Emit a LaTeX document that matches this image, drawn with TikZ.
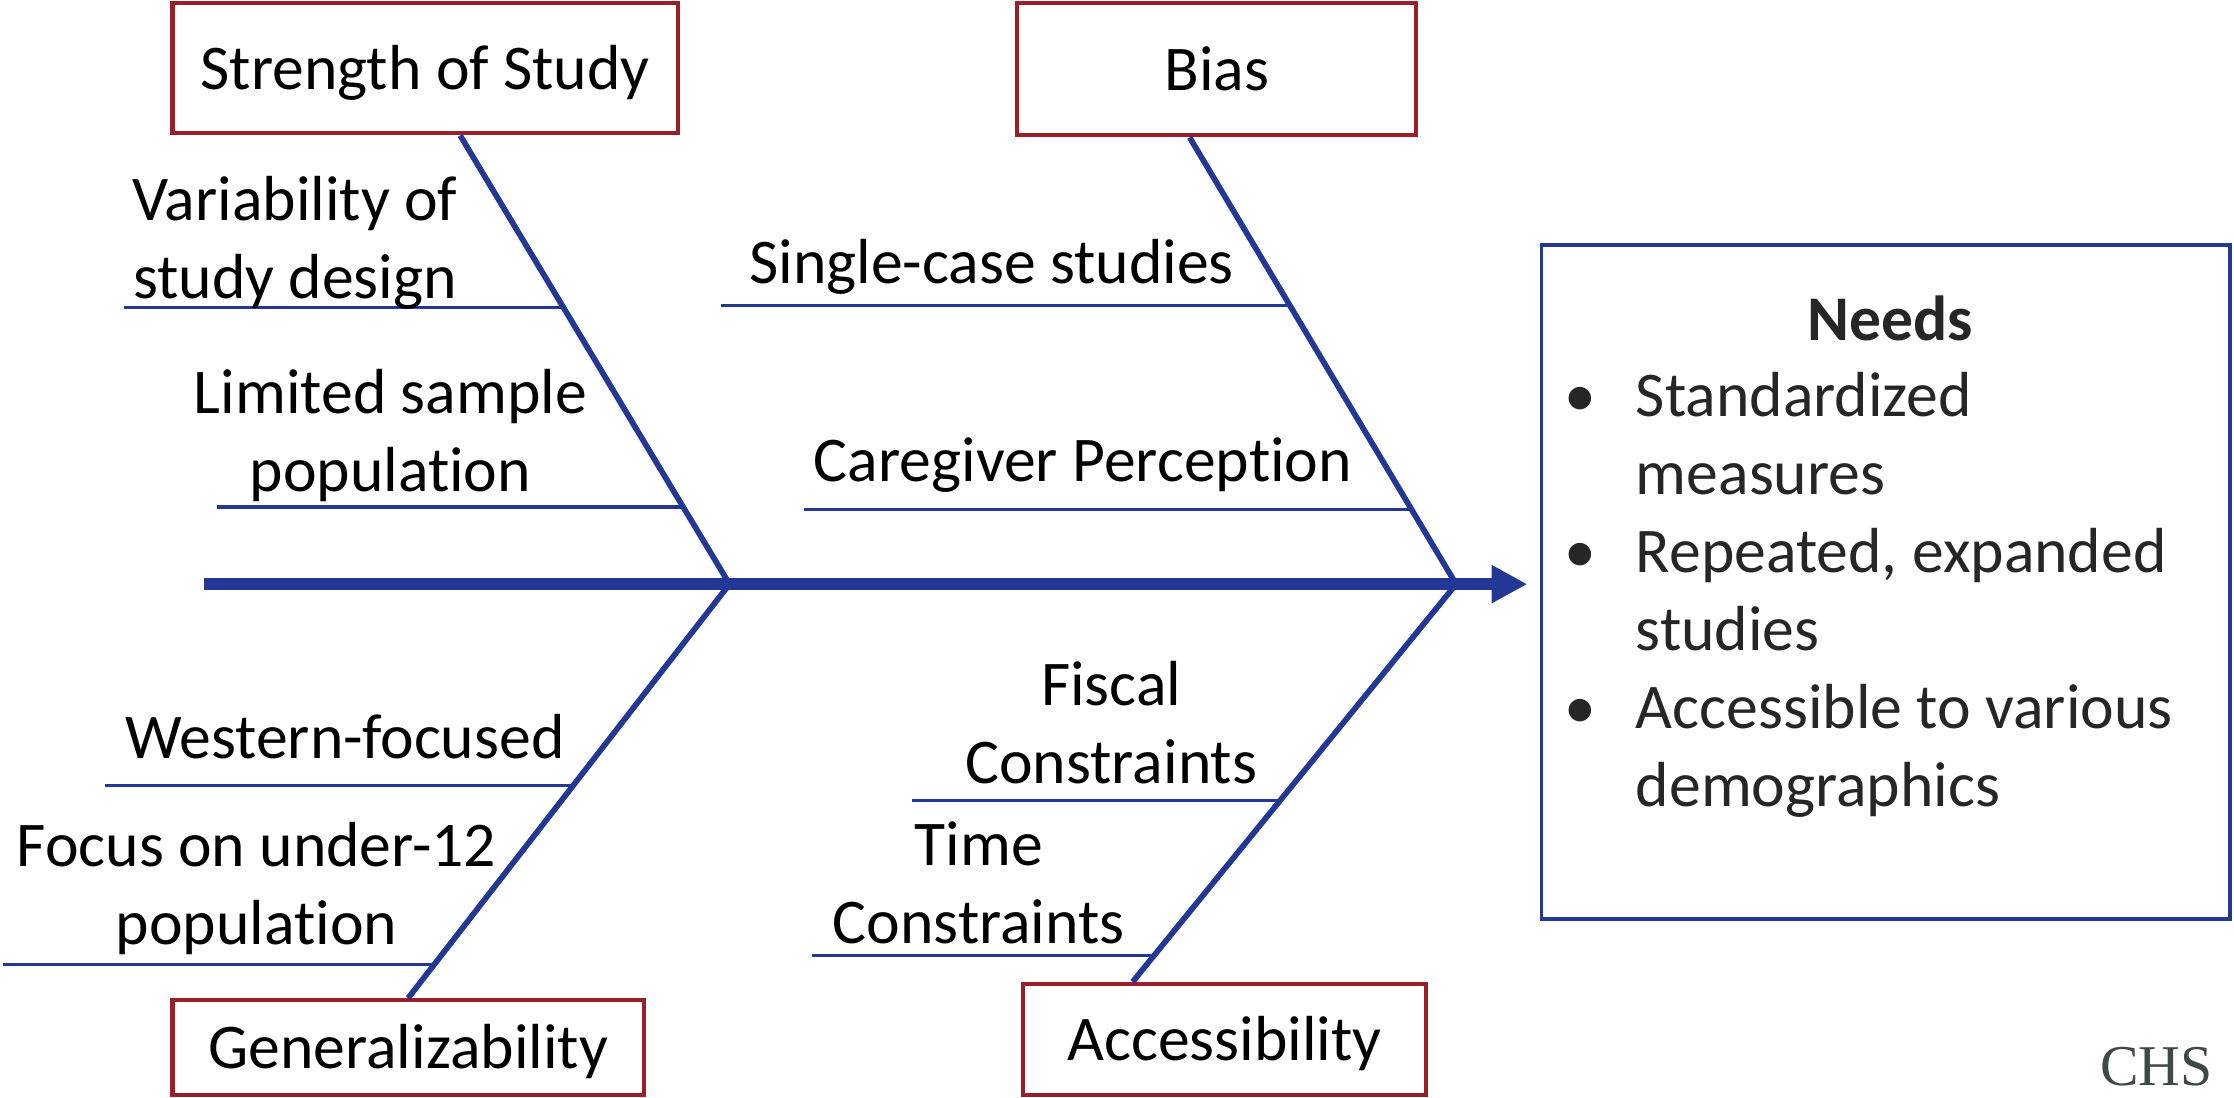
\documentclass[tikz,border=0pt]{standalone}
\usepackage{fontspec}
\setmainfont{Carlito}[Ligatures=NoCommon]
\newfontfamily\chsfont{Liberation Serif}
\usetikzlibrary{arrows.meta,positioning}
\definecolor{bonecol}{RGB}{35,56,148}
\definecolor{boxred}{RGB}{155,30,40}
\definecolor{needtext}{RGB}{38,38,38}
\definecolor{chsgray}{RGB}{62,72,72}
\newcommand{\lblfont}{\fontsize{44.7}{54.7}\selectfont}
\tikzset{
    catbox/.style={draw=boxred, line width=3pt, inner sep=0pt, text height=32pt, text depth=2pt},
    bone/.style={draw=bonecol, line width=4pt},
    twig/.style={draw=bonecol, line width=2.2pt},
    twiglabel/.style={align=center, inner sep=0pt, anchor=south, execute at end node=\strut},
}

\begin{document}
\begin{tikzpicture}[x=1pt, y=-1pt, every node/.style={font=\lblfont}]
    \useasboundingbox (0,0) rectangle (1568,770);
    \node[catbox, minimum width=355pt, minimum height=91.6pt] (strength) at (298.5,47.8) {Strength of Study};
    \node[catbox, minimum width=280pt, minimum height=93pt] (bias) at (854,48.5) {Bias};
    \node[catbox, minimum width=331pt, minimum height=66.6pt] (general) at (286.5,735.3) {Generalizability};
    \node[catbox, minimum width=283pt, minimum height=78pt] (access) at (859.5,729.6) {Accessibility};

    \coordinate (tail) at (143,410);
    \coordinate (head) at (1072,410);
    \coordinate (j1) at (512,410);
    \coordinate (j2) at (1022,410);
    \draw [bonecol, line width=8.5pt, -{Triangle[length=25pt, width=25pt]}] (tail) -- (head);

    \draw [bone] ([xshift=24.5pt]strength.south) -- coordinate[pos=0.383] (s1) coordinate[pos=0.828] (s2) (j1);
    \draw [bone] ([xshift=-19pt]bias.south) -- coordinate[pos=0.376] (b1) coordinate[pos=0.832] (b2) (j2);
    \draw [bone] (j1) -- coordinate[pos=0.486] (g1) coordinate[pos=0.918] (g2) (general.north);
    \draw [bone] (j2) -- coordinate[pos=0.545] (a1) coordinate[pos=0.933] (a2) ([xshift=-64.5pt]access.north);

    \coordinate (s1end) at (87,0);
    \coordinate (s2end) at (152,0);
    \coordinate (b1end) at (506,0);
    \coordinate (b2end) at (564,0);
    \coordinate (g1end) at (74,0);
    \coordinate (g2end) at (2,0);
    \coordinate (a1end) at (640,0);
    \coordinate (a2end) at (570,0);
    \draw [twig] (s1) -- (s1 -| s1end);
    \draw [twig] (s2) -- (s2 -| s2end);
    \draw [twig] (b1) -- (b1 -| b1end);
    \draw [twig] (b2) -- (b2 -| b2end);
    \draw [twig] (g1) -- (g1 -| g1end);
    \draw [twig] (g2) -- (g2 -| g2end);
    \draw [twig] (a1) -- (a1 -| a1end);
    \draw [twig] (a2) -- (a2 -| a2end);

    \node[twiglabel] (variab) at (207,225.8) {Variability of\\study design};
    \node[twiglabel] (limited) at (274,361.4) {Limited sample\\population};
    \node[twiglabel] (single) at (696,215.3) {Single-case studies};
    \node[twiglabel] (caregiver) at (760,354.4) {Caregiver Perception};
    \node[twiglabel] (western) at (242,548.7) {Western-focused};
    \node[twiglabel] (under12) at (180,679.7) {Focus on under-12\\population};
    \node[twiglabel] (fiscal) at (780,566.2) {Fiscal\\Constraints};
    \node[twiglabel] (time) at (687,679) {Time\\Constraints};

    \node[draw=bonecol, line width=2.5pt, minimum width=483pt, minimum height=473pt, inner sep=0pt] (needs) at (1323.5,408.5) {};
    \node[anchor=base, font=\lblfont\bfseries, text=needtext] (needstitle) at (1326.6,239) {Needs};
    \node[anchor=base west, inner sep=0pt, text=needtext] (needslist) at (1098,292.5) {%
        \begin{tabular}[t]{@{}p{50pt}@{}l@{}}
        \textbullet & Standardized\\
        & measures\\
        \textbullet & Repeated, expanded\\
        & studies\\
        \textbullet & Accessible to various\\
        & demographics
        \end{tabular}};

    \node[font=\chsfont\fontsize{40.5}{48}\selectfont, text=chsgray, anchor=base west, inner sep=0pt] (chs) at (1474,761.6) {CHS};
\end{tikzpicture}
\end{document}
